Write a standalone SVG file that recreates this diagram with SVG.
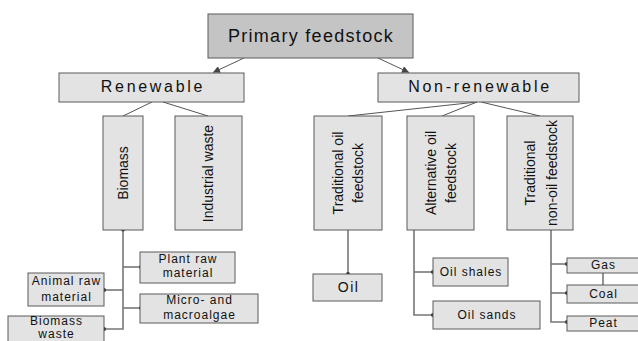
<svg xmlns="http://www.w3.org/2000/svg" width="638" height="341" viewBox="0 0 638 341">
  <defs>
    <marker id="arrow" viewBox="0 0 10 10" refX="10" refY="5" markerWidth="9" markerHeight="7" markerUnits="userSpaceOnUse" orient="auto">
      <path d="M0,0 L10,5 L0,10 z" fill="#444"/>
    </marker>
    <style>
      .box { fill: #e3e3e3; stroke: #5a5a5a; stroke-width: 1; }
      .root { fill: #c4c4c4; stroke: #5a5a5a; stroke-width: 1; }
      .link { fill: none; stroke: #555; stroke-width: 1; }
      .tree { fill: none; stroke: #777; stroke-width: 1.6; }
      .dot { fill: #333; }
      text { font-family: "Liberation Sans", Arial, sans-serif; fill: #111; text-anchor: middle; }
      .t1 { font-size: 18px; letter-spacing: 1.3px; }
      .t2 { font-size: 16px; letter-spacing: 2.7px; }
      .tv { font-size: 14px; }
      .ts { font-size: 12px; letter-spacing: 1px; }
      .to { font-size: 14px; letter-spacing: 1.4px; }
    </style>
  </defs>

  <!-- connectors -->
  <g id="connectors">
    <line class="link" x1="244" y1="58" x2="213" y2="72.5" marker-end="url(#arrow)"/>
    <line class="link" x1="378" y1="58" x2="409" y2="72.5" marker-end="url(#arrow)"/>
    <line class="link" x1="152" y1="102" x2="123" y2="116"/>
    <line class="link" x1="163" y1="102" x2="208" y2="116"/>
    <line class="link" x1="477" y1="102" x2="348" y2="116"/>
    <line class="link" x1="477" y1="102" x2="442" y2="116"/>
    <line class="link" x1="481" y1="102" x2="540" y2="116"/>

    <!-- biomass branches -->
    <polyline class="tree" points="123,230 123,329 104,329"/>
    <line class="tree" x1="123" y1="267" x2="140" y2="267"/>
    <line class="tree" x1="104" y1="290" x2="123" y2="290"/>
    <line class="tree" x1="123" y1="308" x2="140" y2="308"/>

    <!-- non-renewable branches -->
    <line class="tree" x1="348" y1="230" x2="348" y2="274"/>
    <polyline class="tree" points="414,230 414,315 433,315"/>
    <line class="tree" x1="414" y1="272" x2="433" y2="272"/>
    <polyline class="tree" points="551,230 551,322 567,322"/>
    <line class="tree" x1="551" y1="264" x2="567" y2="264"/>
    <line class="tree" x1="551" y1="293" x2="567" y2="293"/>
    <line class="tree" x1="603" y1="273" x2="603" y2="285"/>

    <circle class="dot" cx="123" cy="229.5" r="2"/>
    <circle class="dot" cx="141" cy="267" r="2"/>
    <circle class="dot" cx="104" cy="290" r="2"/>
    <circle class="dot" cx="141" cy="308" r="2"/>
    <circle class="dot" cx="104" cy="329" r="2"/>
    <circle class="dot" cx="348" cy="274" r="2"/>
    <circle class="dot" cx="433" cy="272" r="2"/>
    <circle class="dot" cx="433" cy="315" r="2"/>
    <circle class="dot" cx="567" cy="264" r="2"/>
    <circle class="dot" cx="567" cy="293" r="2"/>
    <circle class="dot" cx="567" cy="322" r="2"/>
  </g>

  <g id="primary">
    <rect class="root" x="208" y="14" width="205" height="44"/>
    <text class="t1" x="311" y="42">Primary feedstock</text>
  </g>

  <g id="renewable">
    <rect class="box" x="59" y="73" width="185" height="29"/>
    <text class="t2" x="153" y="92">Renewable</text>
  </g>

  <g id="non-renewable">
    <rect class="box" x="378" y="73" width="201" height="29"/>
    <text class="t2" x="480" y="92">Non-renewable</text>
  </g>

  <g id="biomass">
    <rect class="box" x="103" y="116" width="40" height="114"/>
    <text class="tv" transform="translate(128,173) rotate(-90)">Biomass</text>
  </g>

  <g id="industrial-waste">
    <rect class="box" x="175" y="116" width="67" height="114"/>
    <text class="tv" transform="translate(213,173.5) rotate(-90)">Industrial waste</text>
  </g>

  <g id="traditional-oil">
    <rect class="box" x="314" y="116" width="68" height="114"/>
    <text class="tv" transform="translate(343,173) rotate(-90)">Traditional oil</text>
    <text class="tv" transform="translate(363,173) rotate(-90)">feedstock</text>
  </g>

  <g id="alternative-oil">
    <rect class="box" x="407" y="116" width="67" height="114"/>
    <text class="tv" transform="translate(436,173) rotate(-90)">Alternative oil</text>
    <text class="tv" transform="translate(456,173) rotate(-90)">feedstock</text>
  </g>

  <g id="traditional-non-oil">
    <rect class="box" x="507" y="116" width="66" height="114"/>
    <text class="tv" transform="translate(535,173) rotate(-90)">Traditional</text>
    <text class="tv" transform="translate(557,173) rotate(-90)">non-oil feedstock</text>
  </g>

  <g id="plant-raw-material">
    <rect class="box" x="140" y="252" width="95" height="31"/>
    <text class="ts" x="188" y="263">Plant raw</text>
    <text class="ts" x="188" y="277">material</text>
  </g>

  <g id="animal-raw-material">
    <rect class="box" x="28" y="273" width="76" height="33"/>
    <text class="ts" x="66.5" y="285">Animal raw</text>
    <text class="ts" x="66.5" y="301">material</text>
  </g>

  <g id="micro-macroalgae">
    <rect class="box" x="140" y="294" width="118" height="29"/>
    <text class="ts" x="199.5" y="304">Micro- and</text>
    <text class="ts" x="199.5" y="319">macroalgae</text>
  </g>

  <g id="biomass-waste">
    <rect class="box" x="8" y="316" width="96" height="30"/>
    <text class="ts" x="56.5" y="325">Biomass</text>
    <text class="ts" x="56.5" y="337.5">waste</text>
  </g>

  <g id="oil">
    <rect class="box" x="313" y="274" width="69" height="27"/>
    <text class="to" x="348.5" y="292">Oil</text>
  </g>

  <g id="oil-shales">
    <rect class="box" x="433" y="258" width="75" height="28"/>
    <text class="ts" x="471" y="276">Oil shales</text>
  </g>

  <g id="oil-sands">
    <rect class="box" x="433" y="301" width="107" height="28"/>
    <text class="ts" x="487" y="319">Oil sands</text>
  </g>

  <g id="gas">
    <rect class="box" x="567" y="258" width="73" height="15"/>
    <text class="ts" x="603.5" y="268.5">Gas</text>
  </g>

  <g id="coal">
    <rect class="box" x="567" y="285" width="73" height="18"/>
    <text class="ts" x="603.5" y="297.5">Coal</text>
  </g>

  <g id="peat">
    <rect class="box" x="567" y="316" width="73" height="15"/>
    <text class="ts" x="603.5" y="326.5">Peat</text>
  </g>
</svg>
